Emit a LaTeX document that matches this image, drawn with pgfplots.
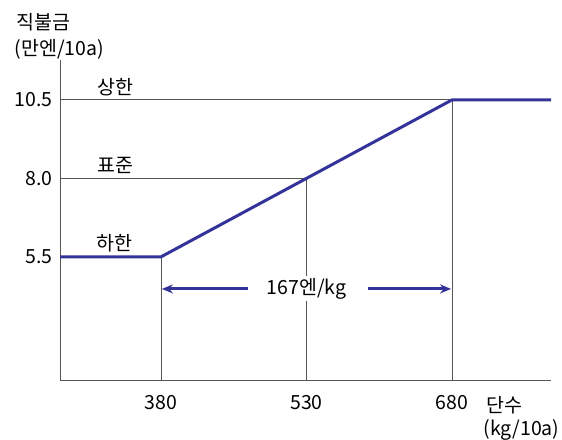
\documentclass[border=0pt]{standalone}
\usepackage{fontspec}
\setmainfont{Noto Sans CJK KR}
\usepackage{pgfplots}
\pgfplotsset{compat=1.18}
\usetikzlibrary{arrows.meta}
\definecolor{lineblue}{RGB}{51,51,153}
\definecolor{refgray}{RGB}{85,85,85}
\begin{document}
\begin{tikzpicture}[x=1pt,y=1pt]
\useasboundingbox (0,0) rectangle (562,439);
\begin{axis}[
  scale only axis, width=491pt, height=320pt,
  at={(60pt,59pt)}, anchor=south west,
  xmin=276, xmax=782, ymin=1.58, ymax=11.77,
  axis lines*=left,
  axis line style={refgray, line width=0.9pt},
  xtick={380,530,680}, ytick={5.5,8.0,10.5},
  xticklabels={\mbox{380},\mbox{530},\mbox{680}},
  yticklabels={\mbox{5.5},\mbox{8.0},\mbox{10.5}},
  major tick length=0pt,
  xticklabel style={yshift=-12pt},
  yticklabel style={xshift=-4pt},
  tick label style={font=\fontsize{19.5}{22}\selectfont, text=black},
  clip=false,
]
% reference lines
\addplot[refgray, line width=0.8pt] coordinates {(276,10.5) (680,10.5)};
\addplot[refgray, line width=0.8pt] coordinates {(276,8.0) (530,8.0)};
\addplot[refgray, line width=0.8pt] coordinates {(276,5.5) (380,5.5)};
\addplot[refgray, line width=0.8pt] coordinates {(380,1.58) (380,5.5)};
\addplot[refgray, line width=0.8pt] coordinates {(530,1.58) (530,8.0)};
\addplot[refgray, line width=0.8pt] coordinates {(680,1.58) (680,10.5)};
% main line
\addplot[lineblue, line width=3pt, line join=round] coordinates {(276,5.5) (380,5.5) (680,10.5) (782,10.5)};
% arrows
\addplot[lineblue, line width=3pt, -{Stealth[length=11pt,width=9pt]}] coordinates {(470,4.48) (381,4.48)};
\addplot[lineblue, line width=3pt, -{Stealth[length=11pt,width=9pt]}] coordinates {(593,4.48) (679,4.48)};
\node[fill=white, inner sep=2pt, font=\fontsize{19.5}{22}\selectfont] at (axis cs:530,4.48) {167엔/kg};
\node[font=\fontsize{19.5}{22}\selectfont] at (axis cs:333.6,10.91) {상한};
\node[font=\fontsize{19.5}{22}\selectfont] at (axis cs:333.6,8.41) {표준};
\node[font=\fontsize{19.5}{22}\selectfont] at (axis cs:332.5,5.95) {하한};
\end{axis}
\node[font=\fontsize{19.5}{22}\selectfont, anchor=west] at (13,417) {직불금};
\node[font=\fontsize{19.5}{22}\selectfont, anchor=west] at (11,390) {(만엔/10a)};
\node[font=\fontsize{19.5}{22}\selectfont] at (504,34) {단수};
\node[font=\fontsize{19.5}{22}\selectfont, anchor=east] at (563,9) {(kg/10a)};
\end{tikzpicture}
\end{document}
